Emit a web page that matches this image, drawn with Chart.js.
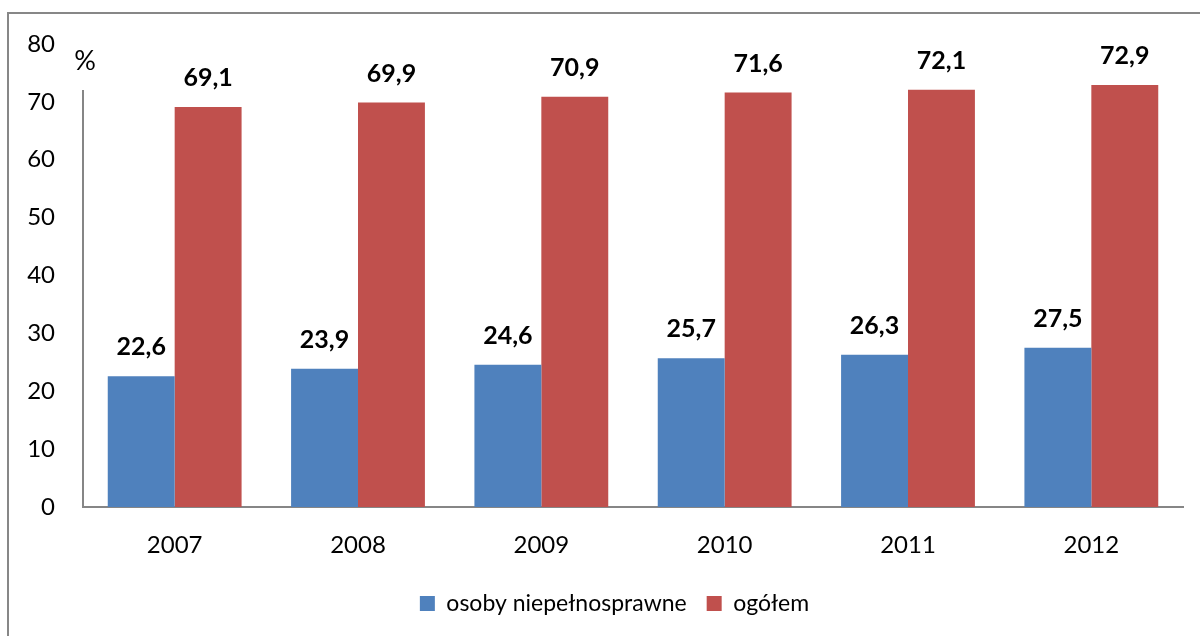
<!DOCTYPE html>
<html>
<head>
<meta charset="utf-8">
<script src="https://cdn.jsdelivr.net/npm/chart.js@4"></script>
<style>
  html, body { margin: 0; padding: 0; background: #fff; }
  #wrap { width: 1200px; height: 636px; position: relative; }
</style>
</head>
<body>
<div id="wrap"><canvas id="chart"></canvas></div>
<script>
const years = ["2007", "2008", "2009", "2010", "2011", "2012"];
const disabled = [22.6, 23.9, 24.6, 25.7, 26.3, 27.5];
const total = [69.1, 69.9, 70.9, 71.6, 72.1, 72.9];
const seriesNames = ["osoby niepełnosprawne", "ogółem"];

const FONT = "Lato, Carlito, 'Open Sans', sans-serif";

// frame, the "%" box over the axis top, and the value labels
const extras = {
    id: "extras",
    afterLayout(chart) {
        // legend sits a bit right of the canvas centre in the original
        chart.legend.left += 10;
        chart.legend.right += 10;
    },
    afterDraw(chart) {
        const ctx = chart.ctx;
        ctx.save();
        ctx.strokeStyle = "#878787";
        ctx.lineWidth = 2;
        ctx.beginPath();
        ctx.moveTo(8, 636);
        ctx.lineTo(8, 13);
        ctx.lineTo(1200, 13);
        ctx.stroke();

        ctx.fillStyle = "#fff";
        ctx.fillRect(62, 32, 50, 58);
        ctx.fillStyle = "#000";
        ctx.font = "27px " + FONT;
        ctx.textAlign = "center";
        ctx.textBaseline = "middle";
        ctx.fillText("%", 85, 61);

        ctx.font = "bold 25px " + FONT;
        chart.data.datasets.forEach((ds, i) => {
            chart.getDatasetMeta(i).data.forEach((bar, j) => {
                const txt = ds.data[j].toFixed(1).replace(".", ",");
                ctx.fillText(txt, bar.x, bar.y - 29);
            });
        });
        ctx.restore();
    }
};

new Chart(document.getElementById("chart"), {
    type: "bar",
    data: {
        labels: years,
        datasets: [
            { label: seriesNames[0], data: disabled, backgroundColor: "#4F81BD" },
            { label: seriesNames[1], data: total, backgroundColor: "#C0504D" }
        ]
    },
    options: {
        responsive: true,
        maintainAspectRatio: false,
        animation: false,
        layout: { padding: { left: 26, right: 17, top: 44, bottom: 11 } },
        datasets: { bar: { categoryPercentage: 0.73, barPercentage: 1.0 } },
        plugins: {
            tooltip: { enabled: false },
            legend: {
                position: "bottom",
                labels: {
                    color: "#000",
                    font: { family: FONT, size: 23 },
                    boxWidth: 15,
                    boxHeight: 15,
                    padding: 20
                }
            }
        },
        scales: {
            x: {
                grid: { display: false, drawTicks: false },
                border: { color: "#868686", width: 2 },
                ticks: { color: "#000", font: { family: FONT, size: 24 }, padding: 24 },
                afterFit(scale) { scale.height = 65; }
            },
            y: {
                min: 0,
                max: 80,
                grid: { display: false, drawTicks: false },
                border: { color: "#868686", width: 2 },
                ticks: { stepSize: 10, color: "#000", font: { family: FONT, size: 24 }, padding: 28 },
                afterFit(scale) { scale.width = 57; }
            }
        }
    },
    plugins: [extras]
});
</script>
</body>
</html>
